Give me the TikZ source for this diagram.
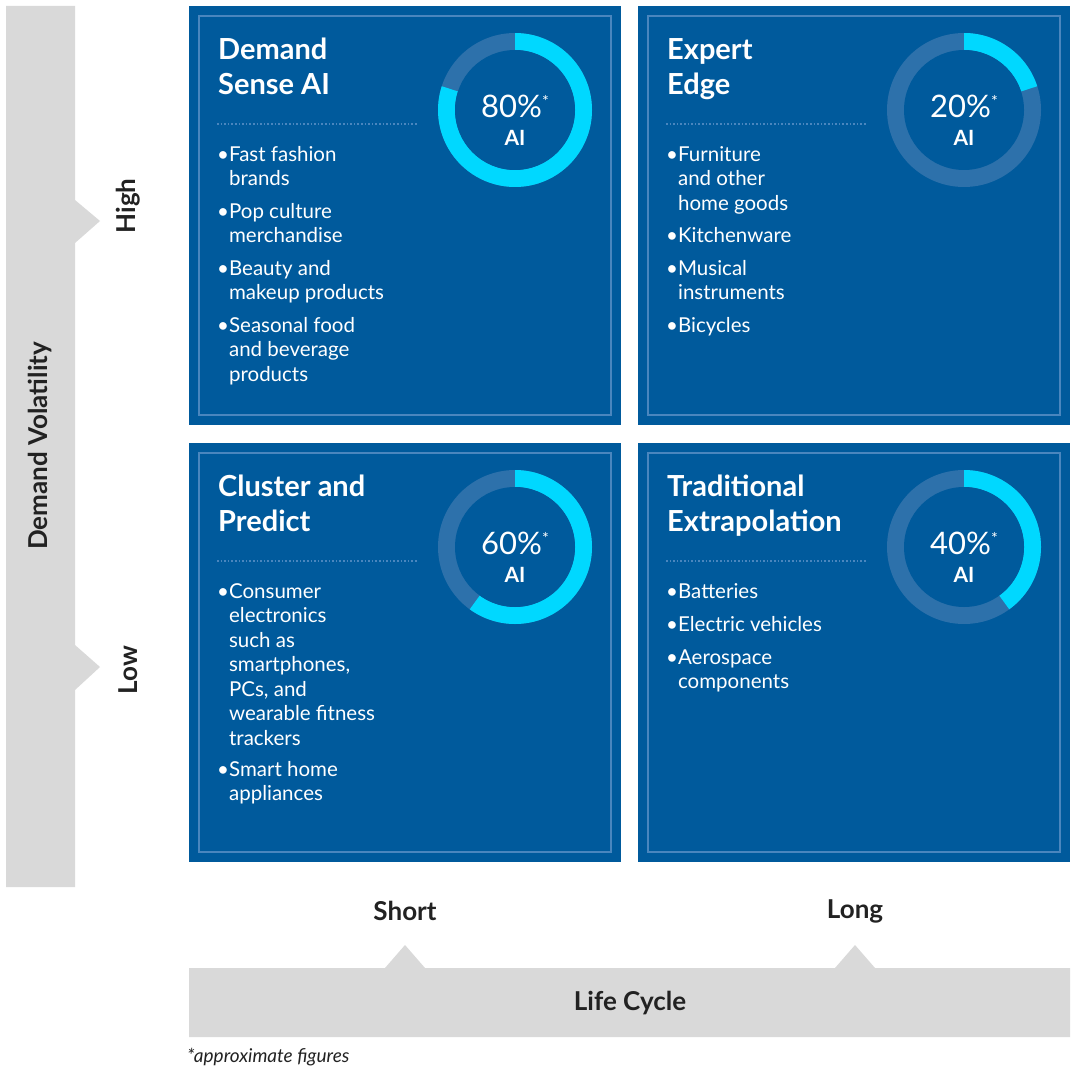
\documentclass[tikz,border=0pt]{standalone}
\usepackage{fontspec}
\setmainfont{Lato}
\definecolor{boxc}{HTML}{005A9C}
\definecolor{inner}{HTML}{4A86BE}
\definecolor{ringbg}{HTML}{2D71AB}
\definecolor{cyanc}{HTML}{00D8FF}
\definecolor{grayc}{HTML}{D9D9D9}
\definecolor{txt}{HTML}{222222}
\tikzset{
 quad/.style={fill=boxc,draw=none},
 ttl/.style={anchor=north west,text=white,font=\fontsize{29}{35}\selectfont\bfseries,align=left,inner sep=0},
 bul/.style={anchor=north west,text=white,font=\fontsize{20.5}{24.5}\selectfont,align=left,inner sep=0},
 axl/.style={text=txt,font=\fontsize{26}{30}\selectfont\bfseries,inner sep=0},
}
\newcommand{\bl}[1]{\textbullet\begin{tabular}[t]{@{}l@{}}#1\end{tabular}}
\newcommand{\quadbox}[4]{% x0,y0,name,pct
 \fill[quad] (#1,#2) rectangle ++(432,419);
 \draw[inner,line width=1.2pt] (#1+10,#2+10) rectangle ++(412,399);
 \draw[inner,line width=1.6pt,dotted] (#1+28,#2+118) -- ++(200,0);
 \coordinate (#3) at (#1+326,#2+104);
 \fill[ringbg] (#3) circle (77);
 \fill[cyanc] (#3) ++(-90:77) arc (-90:-90+3.6*#4:77) -- ($(#3)+(-90+3.6*#4:60)$) arc (-90+3.6*#4:-90:60) -- cycle;
 \fill[boxc] (#3) circle (60);
 \node[text=white,font=\fontsize{31}{31}\selectfont,inner sep=0] at ($(#3)+(0,-4)$) {#4\%\raisebox{10pt}{\fontsize{16}{16}\selectfont*}};
 \node[text=white,font=\fontsize{21}{21}\selectfont\bfseries,inner sep=0] at ($(#3)+(0,28)$) {AI};
}
\usetikzlibrary{calc}
\begin{document}
\begin{tikzpicture}[x=1pt,y=-1pt]
\useasboundingbox[fill=white] (0,0) rectangle (1075,1075);
% left bar
\fill[grayc] (6,6) -- (75,6) -- (75,200) -- (100,221) -- (75,243) -- (75,645) -- (100,667) -- (75,690) -- (75,887) -- (6,887) -- cycle;
\node[axl,rotate=90] (dv) at (40,446) {Demand Volatility};
\node[axl,rotate=90] (hi) at (128,206) {High};
\node[axl,rotate=90] (lo) at (128,670) {Low};
% bottom bar
\fill[grayc] (189,968) -- (385,968) -- (405,945) -- (425,968) -- (835,968) -- (855,945) -- (875,968) -- (1070,968) -- (1070,1037) -- (189,1037) -- cycle;
\node[axl] (lc) at (630,1003) {Life Cycle};
\node[axl] (sh) at (405,911) {Short};
\node[axl] (lg) at (855,911) {Long};
\node[anchor=west,text=txt,font=\fontsize{19}{19}\selectfont\itshape,inner sep=0] (fn) at (187,1057) {*approximate figures};
% quadrants
\quadbox{189}{6}{d1}{80}
\quadbox{638}{6}{d2}{20}
\quadbox{189}{443}{d3}{60}
\quadbox{638}{443}{d4}{40}
\node[ttl] (t1) at (218,38) {Demand\\Sense AI};
\node[ttl] (t2) at (667,38) {Expert\\Edge};
\node[ttl] (t3) at (218,475) {Cluster and\\Predict};
\node[ttl] (t4) at (667,475) {Traditional\\Extrapolation};
\node[bul] (b11) at (217,144) {\bl{Fast fashion\\brands}};
\node[bul] (b12) at (217,201) {\bl{Pop culture\\merchandise}};
\node[bul] (b13) at (217,258) {\bl{Beauty and\\makeup products}};
\node[bul] (b14) at (217,315) {\bl{Seasonal food\\and beverage\\products}};
\node[bul] (b21) at (666,144) {\bl{Furniture\\and other\\home goods}};
\node[bul] (b22) at (666,225) {\bl{Kitchenware}};
\node[bul] (b23) at (666,258) {\bl{Musical\\instruments}};
\node[bul] (b24) at (666,315) {\bl{Bicycles}};
\node[bul] (b31) at (217,581) {\bl{Consumer\\electronics\\such as\\smartphones,\\PCs, and\\wearable fitness\\trackers}};
\node[bul] (b32) at (217,759) {\bl{Smart home\\appliances}};
\node[bul] (b41) at (666,581) {\bl{Batteries}};
\node[bul] (b42) at (666,614) {\bl{Electric vehicles}};
\node[bul] (b43) at (666,647) {\bl{Aerospace\\components}};
\end{tikzpicture}
\end{document}
